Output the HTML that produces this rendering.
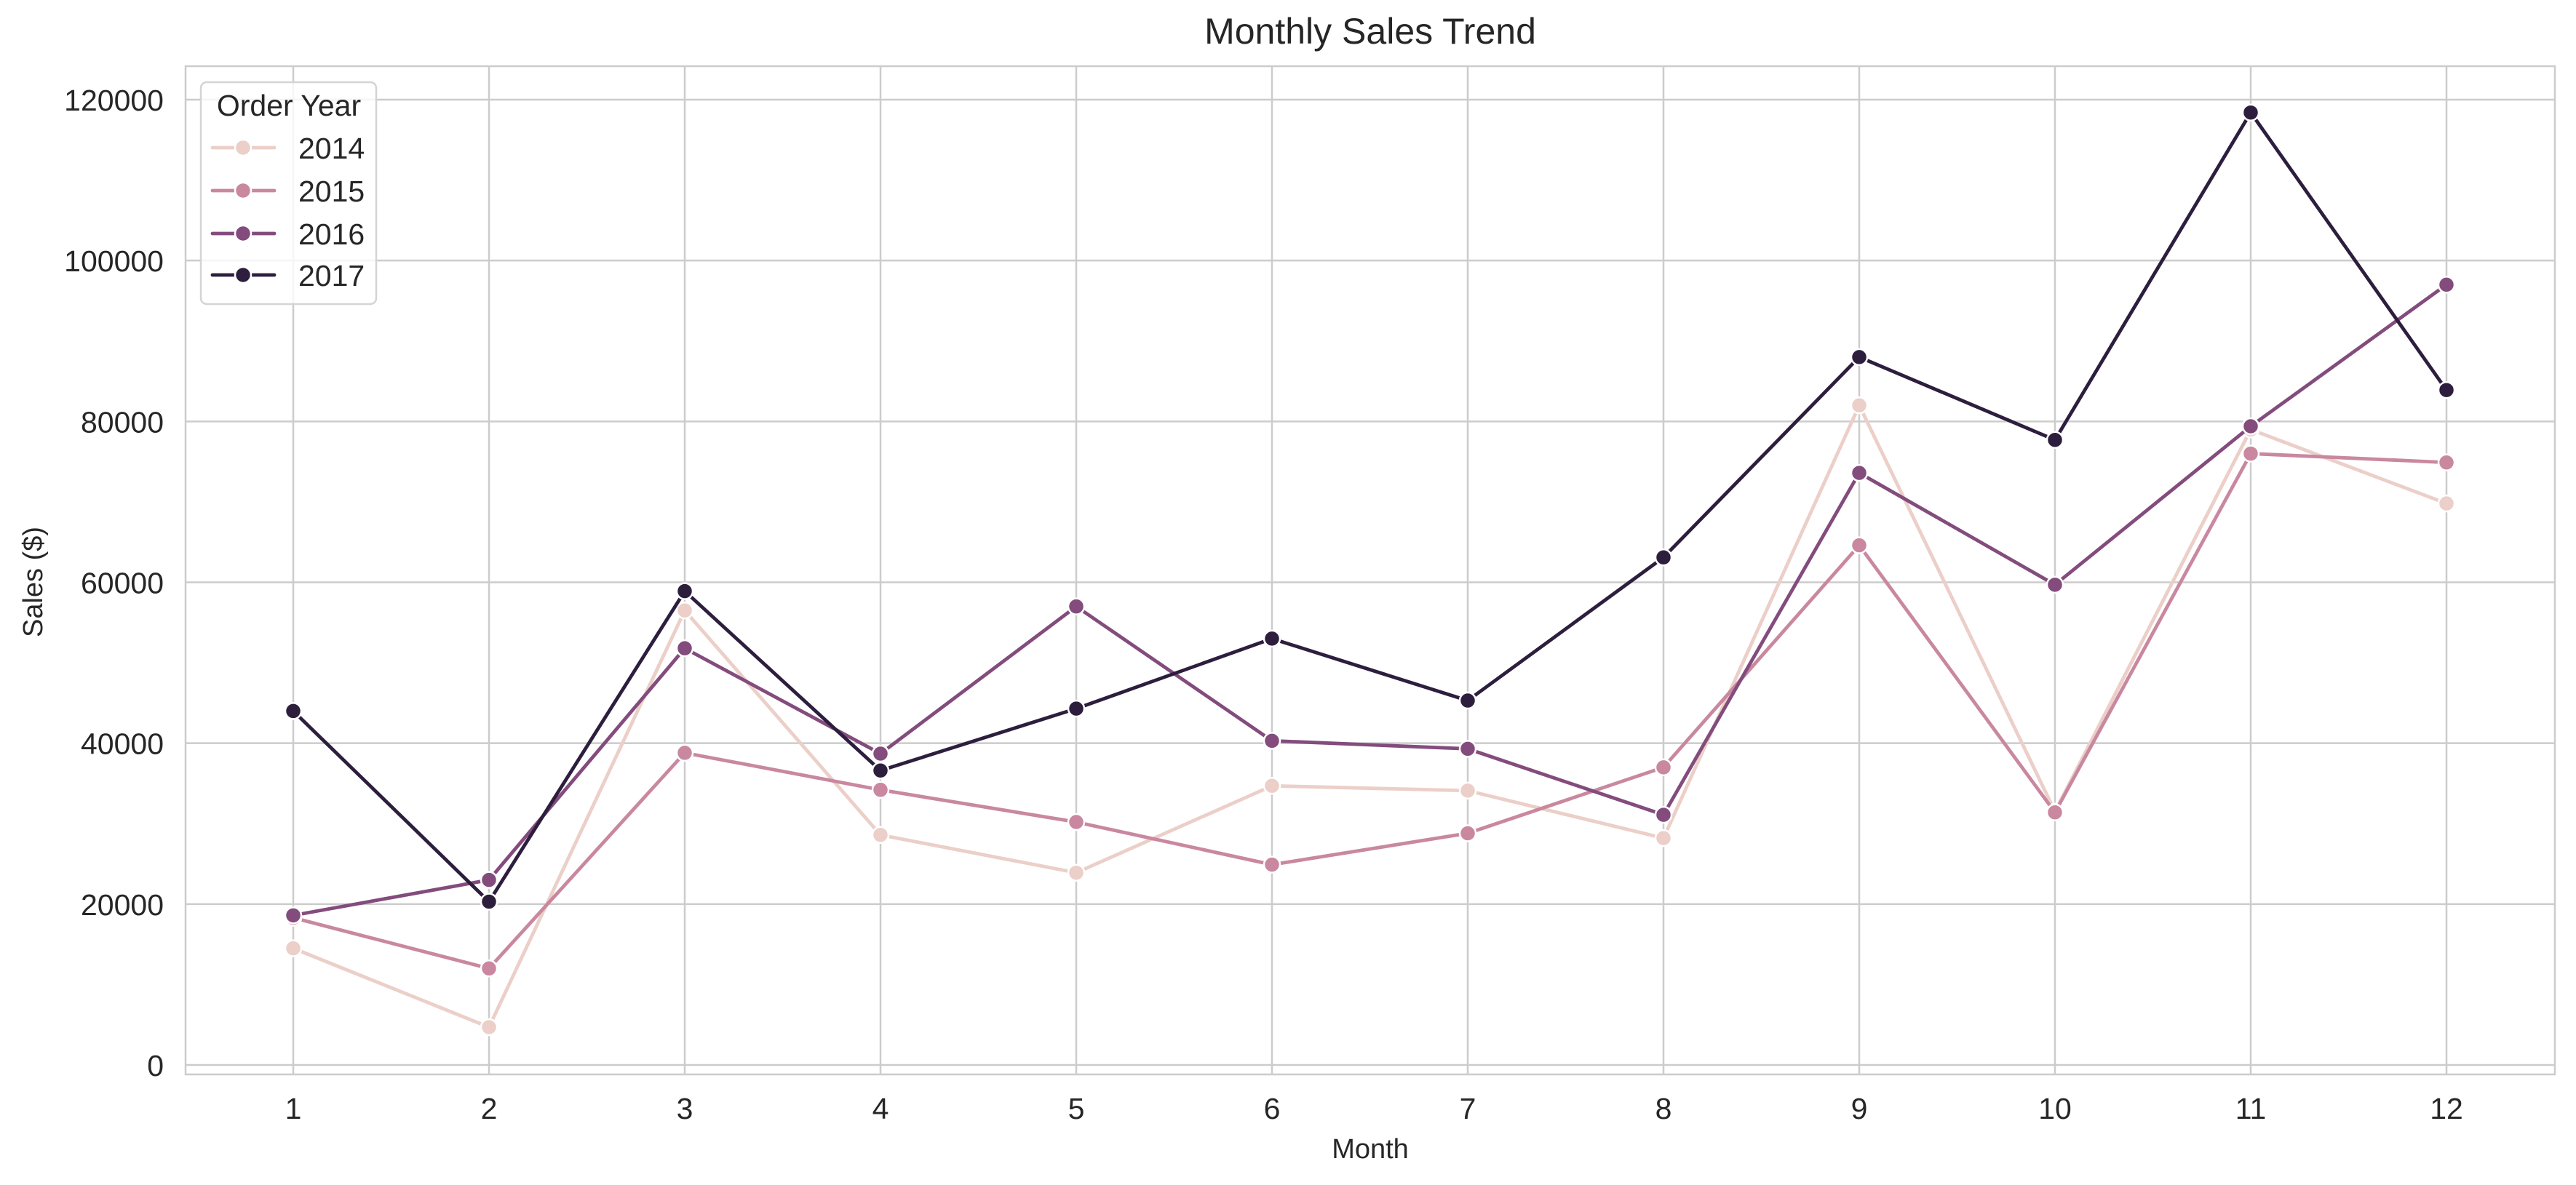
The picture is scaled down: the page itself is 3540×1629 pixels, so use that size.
<!DOCTYPE html>
<html><head><meta charset="utf-8"><style>
html,body{margin:0;padding:0;background:#fff}
svg{display:block;font-family:"Liberation Sans",Arial,sans-serif}
</style></head><body>
<svg id="chart" width="3540" height="1629" viewBox="0 0 3540 1629" xmlns="http://www.w3.org/2000/svg">
<rect width="3540" height="1629" fill="#fff"/>
<g id="grid"></g>
<g id="series"></g>
<g id="axes"></g>
</svg>
<script>
const months = [1,2,3,4,5,6,7,8,9,10,11,12];
const years = ["2014","2015","2016","2017"];
const sales2014 = [14500,4700,56500,28600,23900,34700,34100,28200,82000,31500,79000,69800];
const sales2015 = [18300,12000,38800,34200,30200,24900,28800,37000,64600,31400,76000,74900];
const sales2016 = [18600,23000,51800,38700,57000,40300,39300,31100,73600,59700,79400,97000];
const sales2017 = [44000,20300,58900,36600,44300,53000,45300,63100,88000,77700,118400,83900];
const yTicks = [0,20000,40000,60000,80000,100000,120000];
const colors = ["#ebcfc8","#c9889f","#834c7d","#2d1e3e"];
const allSeries = [sales2014,sales2015,sales2016,sales2017];

const NS="http://www.w3.org/2000/svg";
const L=255,R=3511,T=91,B=1477;
function xs(m){return 403+(m-1)*(3362-403)/11;}
function ys(v){return 1464-v*(1464-137)/120000;}
function mk(tag,attrs,parent){const e=document.createElementNS(NS,tag);for(const k in attrs)e.setAttribute(k,attrs[k]);parent.appendChild(e);return e;}
const grid=document.getElementById('grid'),ser=document.getElementById('series'),axes=document.getElementById('axes');

yTicks.forEach(v=>{
  const l=mk('line',{x1:L,x2:R,y1:ys(v),y2:ys(v),stroke:'#cccccc','stroke-width':2.5},grid);
  
  
  const t=mk('text',{x:225,y:ys(v)+15,'text-anchor':'end','font-size':41,fill:'#262626'},axes);
  t.textContent=v;
  
  
});
months.forEach(m=>{
  const l=mk('line',{x1:xs(m),x2:xs(m),y1:T,y2:B,stroke:'#cccccc','stroke-width':2.5},grid);
  
  
  const t=mk('text',{x:xs(m),y:1538,'text-anchor':'middle','font-size':41,fill:'#262626'},axes);
  t.textContent=m;
  
  
});
const frame=mk('rect',{x:L,y:T,width:R-L,height:B-T,fill:'none',stroke:'#cccccc','stroke-width':2.5},grid);



allSeries.forEach((s,i)=>{
  const g=mk('g',{},ser);
  
  
  const pts=s.map((v,j)=>xs(months[j])+','+ys(v)).join(' ');
  const pl=mk('polyline',{points:pts,fill:'none',stroke:colors[i],'stroke-width':4.8,'stroke-linejoin':'round','stroke-linecap':'round'},g);
  
  
  s.forEach((v,j)=>{
    const c=mk('circle',{cx:xs(months[j]),cy:ys(v),r:11,fill:colors[i],stroke:'#fff','stroke-width':2.5},g);
    
    
  });
});

const title=mk('text',{x:1883,y:60,'text-anchor':'middle','font-size':50,fill:'#262626'},axes);
title.textContent='Monthly Sales Trend';


const xl=mk('text',{x:1883,y:1592,'text-anchor':'middle','font-size':38,fill:'#262626'},axes);
xl.textContent='Month';


const yl=mk('text',{x:58,y:800,'text-anchor':'middle','font-size':38,fill:'#262626',transform:'rotate(-90 58 800)'},axes);
yl.textContent='Sales ($)';



const lg=mk('g',{},axes);


const box=mk('rect',{x:276,y:113,width:241,height:305,rx:8,fill:'#fff','fill-opacity':0.8,stroke:'#d4d4d4','stroke-width':2.5},lg);


const lt=mk('text',{x:397,y:159,'text-anchor':'middle','font-size':41,fill:'#262626'},lg);
lt.textContent='Order Year';


const legendRowY=[203,262,321,378];
years.forEach((y,i)=>{
  const ly=legendRowY[i];
  const e=mk('g',{},lg);
  
  
  mk('line',{x1:292,x2:377,y1:ly,y2:ly,stroke:colors[i],'stroke-width':4.8,'stroke-linecap':'round'},e);
  mk('circle',{cx:334,cy:ly,r:11,fill:colors[i],stroke:'#fff','stroke-width':2.5},e);
  const t=mk('text',{x:410,y:ly+15,'font-size':41,fill:'#262626'},e);
  t.textContent=y;
});
</script>
</body></html>
